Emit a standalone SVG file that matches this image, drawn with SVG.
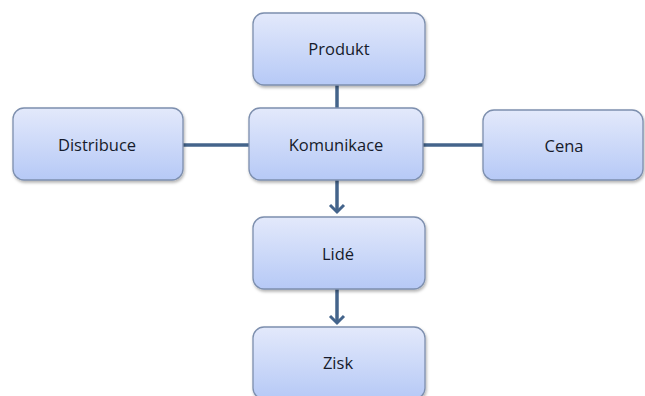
<svg xmlns="http://www.w3.org/2000/svg" width="645" height="396" viewBox="0 0 645 396">
<style>
.box{fill:url(#g);stroke:#7d8fae;stroke-width:1.3;filter:url(#sh)}
.lbl{font-family:"Open Sans","Liberation Sans",sans-serif;font-size:16.5px;font-weight:500;fill:#161b2b;text-anchor:middle;dominant-baseline:central}
.ln{stroke:#44648b;stroke-width:3.5;fill:none}
</style>
<defs>
<linearGradient id="g" x1="0" y1="0" x2="0" y2="1">
<stop offset="0" stop-color="#e3e9fb"/>
<stop offset="1" stop-color="#b6c9f6"/>
</linearGradient>
<filter id="sh" x="-10%" y="-10%" width="120%" height="130%">
<feDropShadow dx="1" dy="2" stdDeviation="1.5" flood-color="#000" flood-opacity="0.3"/>
</filter>
<marker id="ar" markerWidth="10" markerHeight="10" refX="5" refY="5" orient="auto" markerUnits="userSpaceOnUse" viewBox="0 0 10 10" overflow="visible">
<path d="M-2,-2 L5,5 L-2,12" fill="none" stroke="#44648b" stroke-width="3"/>
</marker>
</defs>
<g id="connectors">
<line class="ln" x1="337" y1="85" x2="337" y2="108"/>
<line class="ln" x1="183" y1="145" x2="249" y2="145"/>
<line class="ln" x1="423" y1="145" x2="483" y2="145"/>
<line class="ln" x1="337" y1="180" x2="337" y2="212" marker-end="url(#ar)"/>
<line class="ln" x1="337" y1="289" x2="337" y2="323" marker-end="url(#ar)"/>
</g>
<g id="produkt"><rect class="box" x="253" y="13" width="172" height="72" rx="11"/><text class="lbl" x="339" y="48">Produkt</text></g>
<g id="komunikace"><rect class="box" x="249" y="108" width="174" height="72" rx="11"/><text class="lbl" x="336" y="144">Komunikace</text></g>
<g id="distribuce"><rect class="box" x="13" y="108" width="170" height="72" rx="11"/><text class="lbl" x="97" y="144">Distribuce</text></g>
<g id="cena"><rect class="box" x="483" y="110" width="160" height="70" rx="11"/><text class="lbl" x="564" y="145">Cena</text></g>
<g id="lide"><rect class="box" x="253" y="217" width="172" height="72" rx="11"/><text class="lbl" x="338" y="253">Lidé</text></g>
<g id="zisk"><rect class="box" x="253" y="327" width="172" height="72" rx="11"/><text class="lbl" x="338" y="362">Zisk</text></g>
</svg>
